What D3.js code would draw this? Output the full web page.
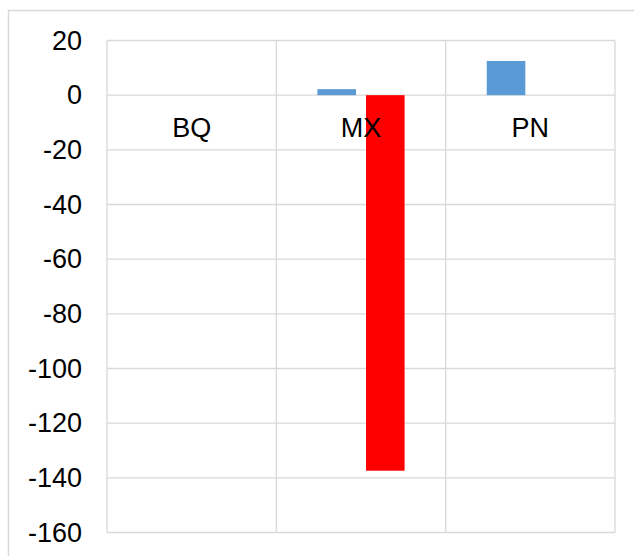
<!DOCTYPE html>
<html>
<head>
<meta charset="utf-8">
<script src="https://cdn.jsdelivr.net/npm/d3@7"></script>
<style>
  html, body { margin: 0; padding: 0; background: #fff; }
  svg { display: block; }
  text { font-family: "Liberation Sans", Arial, sans-serif; fill: #000; }
</style>
</head>
<body>
<svg id="chart" width="634" height="556"></svg>
<script>
// Categories and series values
const categories = ["BQ", "MX", "PN"];
const seriesNames = ["Series1", "Series2"];
const series1 = [null, 2.2, 12.5];
const series2 = [null, -137.4, null];
const seriesColors = ["#5b9bd5", "#ff0000"];
const yTicks = [20, 0, -20, -40, -60, -80, -100, -120, -140, -160];

const svg = d3.select("#chart");
const plot = { left: 107, right: 615, top: 40.5, bottom: 532.5 };
const fontSize = 27;

// outer chart frame (runs past the bottom/right edge)
svg.append("rect")
  .attr("x", 8.5).attr("y", 10.5)
  .attr("width", 640).attr("height", 560)
  .attr("fill", "#fff")
  .attr("stroke", "#d9d9d9").attr("stroke-width", 1.5);

const x = d3.scaleBand().domain(categories).range([plot.left, plot.right]).padding(0);
const xs = d3.scaleBand().domain(seriesNames)
  .range([0, x.bandwidth()])
  .paddingInner(0.206)
  .paddingOuter(0.845);
const y = d3.scaleLinear().domain([-160, 20]).range([plot.bottom, plot.top]);

const grid = svg.append("g");
// horizontal gridlines
grid.selectAll("line.h").data(yTicks).join("line")
  .attr("class", "h")
  .attr("x1", plot.left).attr("x2", plot.right)
  .attr("y1", d => y(d)).attr("y2", d => y(d))
  .attr("stroke", "#d9d9d9").attr("stroke-width", 1.3);
// vertical gridlines at category boundaries
const bounds = categories.map(c => x(c)).concat([x(categories[categories.length - 1]) + x.bandwidth()]);
grid.selectAll("line.v").data(bounds).join("line")
  .attr("class", "v")
  .attr("x1", d => d).attr("x2", d => d)
  .attr("y1", plot.top).attr("y2", plot.bottom)
  .attr("stroke", "#d9d9d9").attr("stroke-width", 1.3);

// y-axis tick labels (plain hyphen-minus)
const yAxis = d3.axisLeft(y).tickValues(yTicks).tickSize(0).tickPadding(0).tickFormat(d => String(d));
const yg = svg.append("g").attr("transform", `translate(${plot.left - 25},0)`).call(yAxis);
yg.select(".domain").remove();
yg.selectAll("text")
  .attr("font-size", fontSize)
  .attr("font-family", '"Liberation Sans", Arial, sans-serif')
  .attr("fill", "#000");

// bars
const allSeries = [series1, series2];
allSeries.forEach((vals, si) => {
  const data = categories.map((c, i) => ({ c, v: vals[i] })).filter(d => d.v !== null);
  svg.append("g").selectAll("rect").data(data).join("rect")
    .attr("x", d => x(d.c) + xs(seriesNames[si]))
    .attr("width", xs.bandwidth())
    .attr("y", d => y(Math.max(0, d.v)))
    .attr("height", d => Math.abs(y(d.v) - y(0)))
    .attr("fill", seriesColors[si]);
});

// category labels, drawn on top just below the zero line
const xAxis = d3.axisBottom(x).tickSize(0).tickPadding(0);
const xg = svg.append("g").attr("transform", `translate(0,${y(0) + 22.5})`).call(xAxis);
xg.select(".domain").remove();
xg.selectAll("text")
  .attr("font-size", fontSize)
  .attr("font-family", '"Liberation Sans", Arial, sans-serif')
  .attr("fill", "#000")
  .attr("dy", "0.71em");
</script>
</body>
</html>
